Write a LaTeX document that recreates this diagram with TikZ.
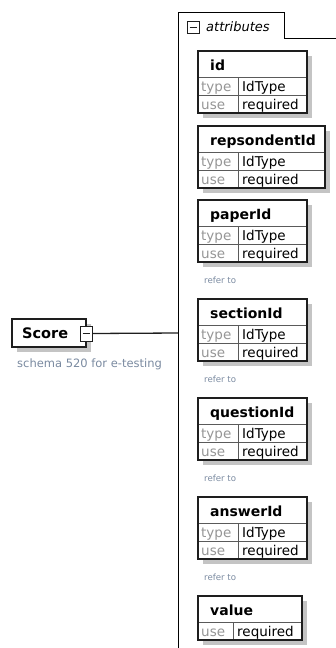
\documentclass[tikz,border=0pt]{standalone}
\usepackage{fontspec}
\setmainfont{DejaVu Sans}
\definecolor{shadowGrey}{RGB}{196,196,196}
\definecolor{tableStroke}{RGB}{30,30,30}
\definecolor{rowStroke}{RGB}{90,90,90}
\definecolor{keyGrey}{RGB}{150,150,150}
\definecolor{noteBlue}{RGB}{122,138,160}
\tikzset{
  headtext/.style={font=\fontsize{14}{16}\selectfont\bfseries,inner sep=0pt,anchor=base west},
  keytext/.style={font=\fontsize{13.5}{15}\selectfont,text=keyGrey,inner sep=0pt,anchor=base west},
  valtext/.style={font=\fontsize{13.5}{15}\selectfont,inner sep=0pt,anchor=base west},
  notetext/.style={font=\fontsize{11.5}{13}\selectfont,text=noteBlue,inner sep=0pt,anchor=base west},
  refertext/.style={font=\fontsize{8.6}{10}\selectfont,text=noteBlue,inner sep=0pt,anchor=base west},
  iconbox/.style={draw=tableStroke,line width=1pt,fill=white,inner sep=0pt,
    path picture={\draw[line width=1pt] ([xshift=2.5pt]path picture bounding box.west)
      -- ([xshift=-2.5pt]path picture bounding box.east);}},
  elembox/.style={draw=tableStroke,line width=1.3pt,fill=white,
    preaction={fill=shadowGrey,transform canvas={shift={(5pt,-5pt)}}}},
}
\newcommand{\attrtable}[6]{%
  \pgfmathsetmacro{\attrh}{26+18*#5}%
  \fill[shadowGrey] (5,5) rectangle (#3+5,\attrh+5);
  \fill[white] (0,0) rectangle (#3,\attrh);
  \node[headtext] (#1) at (12,19) {#2};
  \foreach \k/\v [count=\i] in {#6}{%
    \draw[rowStroke,line width=0.9pt] (0,8+18*\i) -- (#3,8+18*\i);
    \node[keytext] (#1-\k) at (3,22+18*\i) {\k};
    \node[valtext] (#1-\k-val) at (#4+4,22+18*\i) {\v};
  }%
  \draw[rowStroke,line width=0.9pt] (#4,26) -- (#4,\attrh);
  \draw[tableStroke,line width=1.3pt] (0,0) rectangle (#3,\attrh);
}

\begin{document}
\begin{tikzpicture}[x=1pt,y=-1pt]
  \useasboundingbox (0,0) rectangle (336,648);
  \draw[line width=1pt] (178,648) -- (178,12) -- (284,12) -- (284,38) -- (336,38);
  \coordinate (attrs-in) at (178,333);
  \node[iconbox,minimum width=12pt,minimum height=12pt] (attrs-icon) at (193,27) {};
  \node[font=\fontsize{13}{15}\selectfont\itshape,inner sep=0pt,anchor=west] (attrs-label) at (206,27) {attributes};

  \node[elembox,minimum width=74pt,minimum height=28pt,inner sep=0pt] (score) at (49,333) {};
  \node[headtext,font=\fontsize{14.5}{16}\selectfont\bfseries] (score-label) at (22,338) {Score};
  \node[iconbox,minimum width=12pt,minimum height=15pt] (score-icon) at (86,333.5) {};
  \node[notetext] (score-note) at (17,367) {schema 520 for e-testing};
  \draw[tableStroke,line width=1.3pt] (score-icon.east) -- (attrs-in);

  \begin{scope}[shift={(198,51)}]
    \attrtable{id}{id}{109}{40}{2}{type/IdType,use/required}
  \end{scope}
  \begin{scope}[shift={(198,126)}]
    \attrtable{repsondentId}{repsondentId}{127}{40}{2}{type/IdType,use/required}
  \end{scope}
  \begin{scope}[shift={(198,200)}]
    \attrtable{paperId}{paperId}{109}{40}{2}{type/IdType,use/required}
  \end{scope}
  \node[refertext] (paperId-ref) at (204,283) {refer to};
  \begin{scope}[shift={(198,299)}]
    \attrtable{sectionId}{sectionId}{109}{40}{2}{type/IdType,use/required}
  \end{scope}
  \node[refertext] (sectionId-ref) at (204,382) {refer to};
  \begin{scope}[shift={(198,398)}]
    \attrtable{questionId}{questionId}{109}{40}{2}{type/IdType,use/required}
  \end{scope}
  \node[refertext] (questionId-ref) at (204,481) {refer to};
  \begin{scope}[shift={(198,497)}]
    \attrtable{answerId}{answerId}{109}{40}{2}{type/IdType,use/required}
  \end{scope}
  \node[refertext] (answerId-ref) at (204,580) {refer to};
  \begin{scope}[shift={(198,596)}]
    \attrtable{value}{value}{104}{35}{1}{use/required}
  \end{scope}
\end{tikzpicture}
\end{document}
